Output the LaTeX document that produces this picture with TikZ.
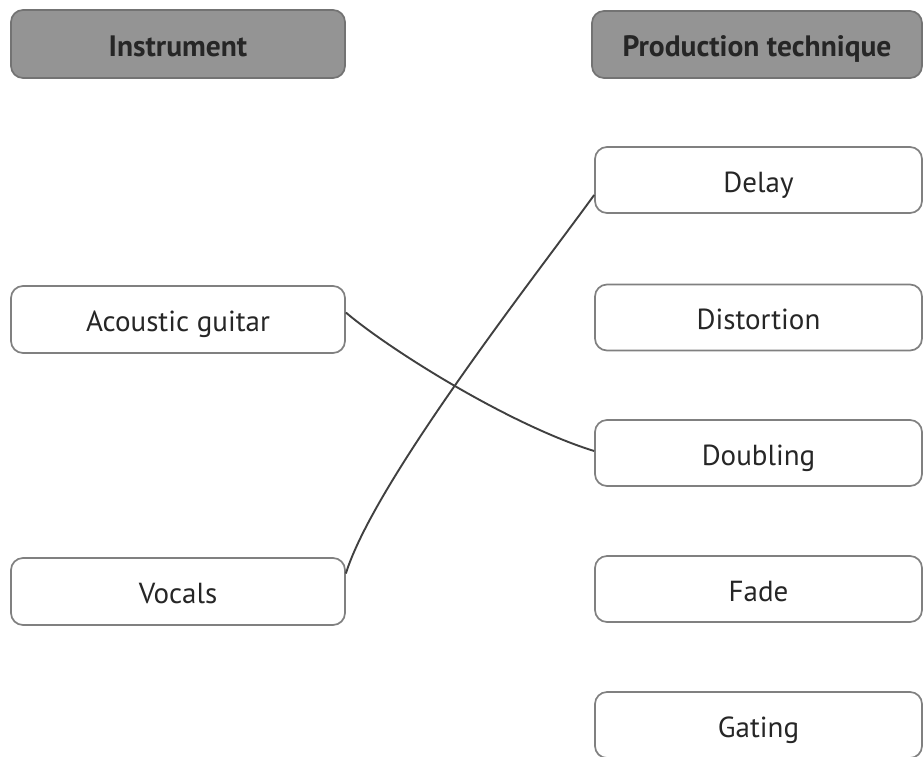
\documentclass[tikz,border=0pt]{standalone}
\usepackage{fontspec}
\setmainfont{PT Sans}
\begin{document}
\begin{tikzpicture}[x=1pt,y=-1pt,
  box/.style={draw=black!50, line width=1.7pt, rounded corners=12pt, fill=white,
    text=black!85, font=\fontsize{29}{33}\selectfont, inner sep=0pt,
    text height=24pt, text depth=0pt},
  lbox/.style={box, minimum width=334pt, minimum height=67pt},
  rbox/.style={box, minimum width=327pt, minimum height=66pt},
  head/.style={fill=black!42, draw=black!55, font=\fontsize{29.5}{33}\selectfont\bfseries},
  link/.style={draw=black!75, line width=1.9pt}]
\useasboundingbox (0,0) rectangle (923,756);
\node[lbox, head, minimum height=68pt] (h1) at (178,44) {Instrument};
\node[box, head, minimum width=330pt, minimum height=67pt] (h2) at (757,44.5) {Production technique};
\node[lbox] (ag) at (178,319.5) {Acoustic guitar};
\node[lbox] (voc) at (178,591.5) {Vocals};
\node[rbox] (delay) at (758.5,180) {Delay};
\node[rbox] (dist) at (758.5,317.5) {Distortion};
\node[rbox] (doub) at (758.5,453) {Doubling};
\node[rbox] (fade) at (758.5,589) {Fade};
\node[rbox] (gate) at (758.5,725) {Gating};
\draw[link] ([yshift=7pt]ag.east) .. controls (390,350) and (510,425) .. ([yshift=2pt]doub.west);
\draw[link] ([yshift=18pt]voc.east) .. controls (375,480) and (540,270) .. ([yshift=-15pt]delay.west);
\end{tikzpicture}
\end{document}
